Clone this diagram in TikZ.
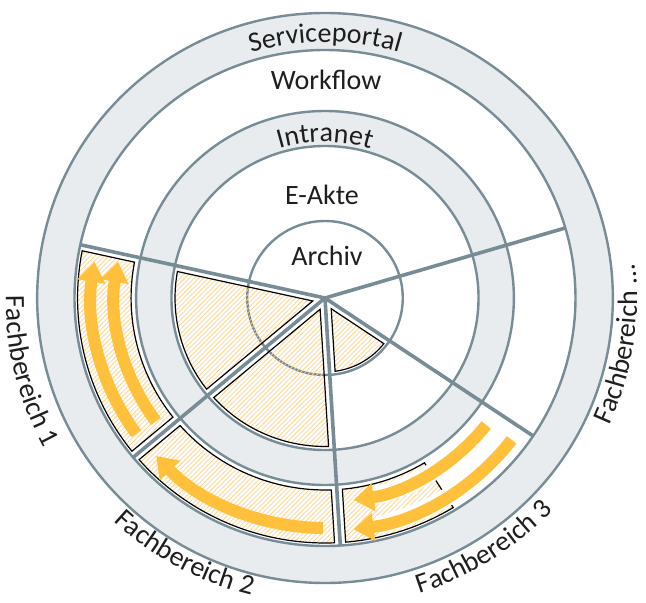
\documentclass[tikz,border=0pt]{standalone}
\usepackage{fontspec}
\setmainfont{Carlito}
\usetikzlibrary{arrows.meta,patterns.meta,decorations.text}

\definecolor{ringline}{HTML}{788C96}
\definecolor{ringfill}{HTML}{E8ECEE}
\definecolor{flow}{HTML}{FFC13B}
\definecolor{hatch}{HTML}{FFD48E}
\definecolor{ink}{HTML}{1E1E1E}

\newcommand\lblfont{\fontsize{28}{34}\selectfont}
% perpendicular distance between a spoke and the zones beside it
\newcommand\gapS{5.5}

% hatched ring sector between two spokes: start angle, end angle, inner radius, outer radius
\newcommand\annzone[4]{%
  \pgfmathsetmacro\zIn{#3}\pgfmathsetmacro\zOut{#4}%
  \pgfmathsetmacro\zAi{#1+asin(\gapS/\zIn)}%
  \pgfmathsetmacro\zAo{#1+asin(\gapS/\zOut)}%
  \pgfmathsetmacro\zBi{#2-asin(\gapS/\zIn)}%
  \pgfmathsetmacro\zBo{#2-asin(\gapS/\zOut)}%
  \path[zone] (\zAi:\zIn) -- (\zAo:\zOut)
    arc[start angle=\zAo, end angle=\zBo, radius=\zOut]
    -- (\zBi:\zIn)
    arc[start angle=\zBi, end angle=\zAi, radius=\zIn] -- cycle;
}
% hatched wedge from the hub: start angle, end angle, radius
\newcommand\wedgezone[3]{%
  \pgfmathsetmacro\zOut{#3}%
  \pgfmathsetmacro\zAo{#1+asin(\gapS/\zOut)}%
  \pgfmathsetmacro\zBo{#2-asin(\gapS/\zOut)}%
  \pgfmathsetmacro\zTip{\gapS/sin((#2-#1)/2)}%
  \path[zone] ({(#1+#2)/2}:\zTip) -- (\zAo:\zOut)
    arc[start angle=\zAo, end angle=\zBo, radius=\zOut] -- cycle;
}

\tikzset{
  ring/.style={draw=ringline, line width=2.4pt},
  spoke/.style={draw=ringline, line width=3.6pt},
  zone/.style={draw=black, line width=1.2pt,
    pattern={Lines[angle=45,distance=3.3pt,line width=0.75pt]}, pattern color=hatch},
  flowarrow/.style={draw=flow, line width=12pt, -{Triangle[width=27pt,length=20pt]}},
  halo/.style={draw=white, line width=18pt},
  ringtext/.style={font=\lblfont, text=ink},
  arctext/.style={decorate, decoration={text along path, text align=center,
    text color=ink, text={|\lblfont|#1}}},
}

\begin{document}
\begin{tikzpicture}[x=1.01pt, y=1pt]
\useasboundingbox (-325pt,-305pt) rectangle (321pt,298pt);

\coordinate (hub) at (0,0);

% rings
\filldraw[ring, fill=ringfill] (hub) circle[radius=285];
\filldraw[ring, fill=white] (hub) circle[radius=248];
\filldraw[ring, fill=ringfill] (hub) circle[radius=187];
\filldraw[ring, fill=white] (hub) circle[radius=152];
\draw[ring] (hub) circle[radius=77];

% Fachbereich 1
\wedgezone{167.6}{220}{148.5}
\annzone{167.6}{220}{192}{245}
% Fachbereich 2
\wedgezone{220}{273.5}{148.5}
\annzone{220}{273.5}{192}{245}
% Fachbereich 3
\wedgezone{273.5}{326.2}{74}
\annzone{273.5}{302.5}{192}{245}

% spokes
\draw[spoke] (hub) -- (167.6:248);
\draw[spoke] (hub) -- (16.4:248);
\draw[spoke] (hub) -- (-33.8:248);
\draw[spoke] (hub) -- (-86.5:248);
\draw[spoke] (hub) -- (220:248);

% process arrows
\draw[flowarrow] (216:231) arc[start angle=216, end angle=171, radius=231];
\draw[flowarrow] (216.4:208) arc[start angle=216.4, end angle=170, radius=208];
\draw[flowarrow] (269.5:230) arc[start angle=269.5, end angle=223.4, radius=230];
\draw[halo] (-40:204) arc[start angle=-40, end angle=-76, radius=204];
\draw[halo] (-39:233) arc[start angle=-39, end angle=-77, radius=233];
\draw[flowarrow] (-38.5:204) arc[start angle=-38.5, end angle=-82, radius=204];
\draw[flowarrow] (-37.5:233) arc[start angle=-37.5, end angle=-83, radius=233];

% ring labels
\path[arctext=Serviceportal] (125:256) arc[start angle=125, end angle=55, radius=256];
\path[arctext=Intranet] (125:156) arc[start angle=125, end angle=55, radius=156];
\node[ringtext, anchor=base] (workflow) at (1,209) {Workflow};
\node[ringtext, anchor=base] (eakte) at (-3,94) {E-Akte};
\node[ringtext, anchor=base] (archiv) at (2,33) {Archiv};

% department labels
\path[arctext=Fachbereich 1] (174:316) arc[start angle=174, end angle=214, radius=316];
\path[arctext=Fachbereich 2] (221.5:306) arc[start angle=221.5, end angle=261.5, radius=306];
\path[arctext=Fachbereich 3] (-77.8:310) arc[start angle=-77.8, end angle=-37.8, radius=310];
\path[arctext=Fachbereich ...] (-29:309) arc[start angle=-29, end angle=11, radius=309];
\end{tikzpicture}
\end{document}
